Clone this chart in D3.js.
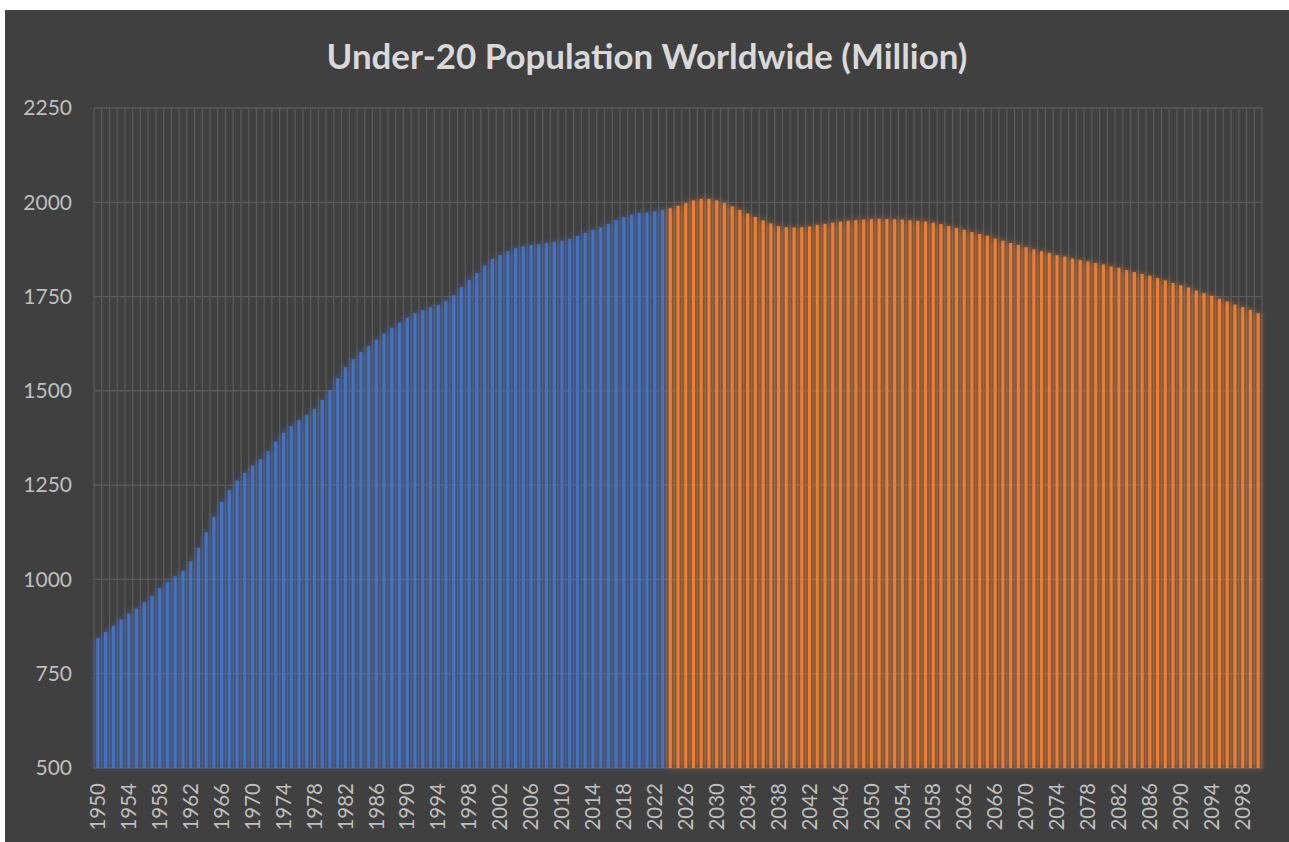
<!DOCTYPE html>
<html>
<head>
<meta charset="utf-8">
<script src="https://cdn.jsdelivr.net/npm/d3@7"></script>
<style>
  html, body { margin: 0; padding: 0; background: #ffffff; overflow: hidden; }
  svg { display: block; }
</style>
</head>
<body>
<svg id="chart" width="1289" height="842"></svg>
<script>
// years on the category axis
var firstYear = 1950, lastYear = 2100;
var years = d3.range(firstYear, lastYear + 1);

// under-20 population in millions
var observed = [ // 1950 - 2023
    844, 861, 877, 894, 909, 923, 939, 957, 977, 993,
    1008, 1023, 1048, 1084, 1125, 1166, 1206, 1237, 1262, 1283,
    1302, 1319, 1340, 1365, 1389, 1407, 1422, 1436, 1452, 1476,
    1502, 1533, 1563, 1584, 1603, 1618, 1636, 1652, 1667, 1681,
    1694, 1706, 1714, 1722, 1728, 1739, 1753, 1775, 1794, 1812,
    1832, 1850, 1860, 1870, 1878, 1883, 1887, 1889, 1892, 1895,
    1898, 1903, 1911, 1919, 1927, 1934, 1943, 1953, 1961, 1967,
    1972, 1973, 1976, 1980
];
var projected = [ // 2024 - 2100
    1984, 1991, 1998, 2005, 2009, 2009, 2005, 1998, 1989, 1980,
    1970, 1961, 1952, 1944, 1937, 1934, 1933, 1934, 1936, 1940,
    1943, 1946, 1949, 1951, 1953, 1954, 1955, 1956, 1956, 1955,
    1954, 1952, 1951, 1949, 1946, 1942, 1937, 1932, 1927, 1921,
    1916, 1911, 1904, 1898, 1892, 1887, 1881, 1875, 1870, 1866,
    1860, 1856, 1851, 1847, 1843, 1839, 1835, 1830, 1826, 1820,
    1815, 1810, 1805, 1799, 1793, 1786, 1780, 1774, 1766, 1759,
    1752, 1744, 1737, 1729, 1722, 1715, 1706
];
var yTicks = [500, 750, 1000, 1250, 1500, 1750, 2000, 2250];
var tickYears = years.filter(function(d, i) { return i % 4 === 0; });

var titleText = "Under-20 Population Worldwide (Million)";

var svg = d3.select("#chart");
var plot = { left: 94, right: 1262, top: 108, bottom: 768 };

/*chart background*/
svg.append("rect")
    .attr("x", 5).attr("y", 10)
    .attr("width", 1284).attr("height", 832)
    .attr("fill", "#404040");

/*glow filters, like the excel glow effect*/
var defs = svg.append("defs");
function addGlow(id) {
    var f = defs.append("filter").attr("id", id)
        .attr("x", "-2%").attr("y", "-10%").attr("width", "104%").attr("height", "120%");
    f.append("feGaussianBlur").attr("in", "SourceGraphic").attr("stdDeviation", 3.4).attr("result", "blur");
    f.append("feComponentTransfer").attr("in", "blur").attr("result", "glow")
        .append("feFuncA").attr("type", "linear").attr("slope", 1.0);
    var m = f.append("feMerge");
    m.append("feMergeNode").attr("in", "glow");
    m.append("feMergeNode").attr("in", "SourceGraphic");
}
addGlow("glowBlue");
addGlow("glowOrange");

var x = d3.scaleBand()
    .domain(years)
    .range([plot.left, plot.right])
    .paddingInner(0.6)
    .paddingOuter(0.3);

var y = d3.scaleLinear()
    .domain([500, 2250])
    .range([plot.bottom, plot.top]);

var step = x.step();
var offset = (step - x.bandwidth()) / 2;

/*gridlines*/
var grid = svg.append("g").attr("stroke", "#5a5a5a").attr("stroke-width", 1.3);
grid.selectAll("line.v")
    .data(years.concat([lastYear + 1]))
    .enter().append("line")
    .attr("class", "v")
    .attr("x1", function(d) { return d > lastYear ? plot.right : x(d) - offset; })
    .attr("x2", function(d) { return d > lastYear ? plot.right : x(d) - offset; })
    .attr("y1", plot.top).attr("y2", plot.bottom);
grid.selectAll("line.h")
    .data(yTicks)
    .enter().append("line")
    .attr("class", "h")
    .attr("x1", plot.left).attr("x2", plot.right)
    .attr("y1", function(d) { return y(d); })
    .attr("y2", function(d) { return y(d); });

/*bars*/
var pastData = observed.map(function(v, i) { return { year: firstYear + i, value: v }; });
var futureData = projected.map(function(v, i) { return { year: firstYear + observed.length + i, value: v }; });

function drawBars(data, color, filterId) {
    svg.append("g")
        .attr("filter", "url(#" + filterId + ")")
        .selectAll("rect")
        .data(data)
        .enter().append("rect")
        .attr("x", function(d) { return x(d.year); })
        .attr("width", x.bandwidth())
        .attr("y", function(d) { return y(d.value); })
        .attr("height", function(d) { return y(500) - y(d.value); })
        .attr("fill", color);
}
drawBars(pastData, "#4472C4", "glowBlue");
drawBars(futureData, "#ED7D31", "glowOrange");

/*y axis labels*/
var yAxis = svg.append("g")
    .attr("transform", "translate(72,0)")
    .call(d3.axisLeft(y).tickValues(yTicks).tickFormat(d3.format("d")).tickSize(0).tickPadding(0));
yAxis.select(".domain").remove();
yAxis.selectAll("text")
    .attr("fill", "#bfbfbf")
    .style("font-family", "Lato, 'Open Sans', sans-serif")
    .style("font-size", "21px");

/*x axis labels, rotated*/
var xAxis = svg.append("g")
    .attr("transform", "translate(0," + plot.bottom + ")")
    .call(d3.axisBottom(x).tickValues(tickYears).tickFormat(d3.format("d")).tickSize(0).tickPadding(0));
xAxis.select(".domain").remove();
xAxis.selectAll("text")
    .attr("fill", "#bfbfbf")
    .style("font-family", "Lato, 'Open Sans', sans-serif")
    .style("font-size", "20.5px")
    .attr("text-anchor", "end")
    .attr("dy", "0.35em")
    .attr("transform", "translate(0,15) rotate(-90)")
    .attr("y", 0).attr("x", 0);

/*title, sized to the width of the original*/
var title = svg.append("text")
    .attr("x", 647).attr("y", 69)
    .attr("text-anchor", "middle")
    .attr("fill", "#d9d9d9")
    .style("font-family", "Lato, 'Open Sans', sans-serif")
    .style("font-weight", "bold")
    .style("font-size", "28px")
    .text(titleText);
var w = title.node().getComputedTextLength();
if (w > 0) title.style("font-size", (28 * 641 / w).toFixed(1) + "px");
</script>
</body>
</html>
